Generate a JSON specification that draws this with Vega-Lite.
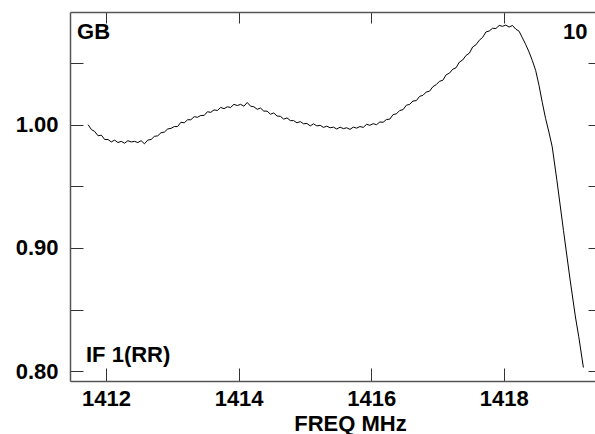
{
  "$schema": "https://vega.github.io/schema/vega-lite/v6.json",
  "width": 525,
  "height": 369,
  "autosize": {"type": "none"},
  "padding": {"left": 70, "top": 12, "right": 0, "bottom": 53},
  "background": "white",
  "config": {
    "view": {"stroke": null},
    "font": "Liberation Sans",
    "axis": {
      "grid": false,
      "domainColor": "#555555",
      "domainWidth": 1.5,
      "tickColor": "#333333",
      "tickWidth": 1,
      "tickSize": -13,
      "labelFont": "Liberation Sans",
      "labelFontSize": 22,
      "labelFontWeight": "bold",
      "labelColor": "#000000",
      "labelOverlap": false,
      "labelFlush": false,
      "titleFont": "Liberation Sans",
      "titleFontSize": 22,
      "titleFontWeight": "bold",
      "titleColor": "#000000"
    }
  },
  "datasets": {
    "spectrum": [
      {"freq": 1411.73, "amp": 1.0},
      {"freq": 1411.78, "amp": 0.996},
      {"freq": 1411.83, "amp": 0.9945},
      {"freq": 1411.88, "amp": 0.991},
      {"freq": 1411.93, "amp": 0.9915},
      {"freq": 1411.98, "amp": 0.988},
      {"freq": 1412.03, "amp": 0.988},
      {"freq": 1412.08, "amp": 0.986},
      {"freq": 1412.13, "amp": 0.9875},
      {"freq": 1412.18, "amp": 0.9855},
      {"freq": 1412.23, "amp": 0.9865},
      {"freq": 1412.28, "amp": 0.985},
      {"freq": 1412.33, "amp": 0.987},
      {"freq": 1412.38, "amp": 0.986},
      {"freq": 1412.43, "amp": 0.9865},
      {"freq": 1412.48, "amp": 0.9855},
      {"freq": 1412.53, "amp": 0.987},
      {"freq": 1412.58, "amp": 0.9845},
      {"freq": 1412.63, "amp": 0.9875},
      {"freq": 1412.68, "amp": 0.988},
      {"freq": 1412.73, "amp": 0.9905},
      {"freq": 1412.78, "amp": 0.991},
      {"freq": 1412.83, "amp": 0.9935},
      {"freq": 1412.88, "amp": 0.994},
      {"freq": 1412.93, "amp": 0.9965},
      {"freq": 1412.98, "amp": 0.997},
      {"freq": 1413.03, "amp": 0.9985},
      {"freq": 1413.08, "amp": 0.9985},
      {"freq": 1413.13, "amp": 1.002},
      {"freq": 1413.18, "amp": 1.0015},
      {"freq": 1413.23, "amp": 1.004},
      {"freq": 1413.28, "amp": 1.004},
      {"freq": 1413.33, "amp": 1.0065},
      {"freq": 1413.38, "amp": 1.006},
      {"freq": 1413.43, "amp": 1.0075},
      {"freq": 1413.48, "amp": 1.0075},
      {"freq": 1413.53, "amp": 1.0105},
      {"freq": 1413.58, "amp": 1.01},
      {"freq": 1413.63, "amp": 1.012},
      {"freq": 1413.68, "amp": 1.0115},
      {"freq": 1413.73, "amp": 1.014},
      {"freq": 1413.78, "amp": 1.013},
      {"freq": 1413.83, "amp": 1.0145},
      {"freq": 1413.88, "amp": 1.014},
      {"freq": 1413.93, "amp": 1.0165},
      {"freq": 1413.98, "amp": 1.0155},
      {"freq": 1414.03, "amp": 1.0165},
      {"freq": 1414.08, "amp": 1.015},
      {"freq": 1414.13, "amp": 1.018},
      {"freq": 1414.18, "amp": 1.015},
      {"freq": 1414.23, "amp": 1.0145},
      {"freq": 1414.28, "amp": 1.0125},
      {"freq": 1414.33, "amp": 1.0135},
      {"freq": 1414.38, "amp": 1.011},
      {"freq": 1414.43, "amp": 1.011},
      {"freq": 1414.48, "amp": 1.0085},
      {"freq": 1414.53, "amp": 1.0095},
      {"freq": 1414.58, "amp": 1.007},
      {"freq": 1414.63, "amp": 1.0068},
      {"freq": 1414.68, "amp": 1.0045},
      {"freq": 1414.73, "amp": 1.0055},
      {"freq": 1414.78, "amp": 1.0033},
      {"freq": 1414.83, "amp": 1.0033},
      {"freq": 1414.88, "amp": 1.0015},
      {"freq": 1414.93, "amp": 1.0025},
      {"freq": 1414.98, "amp": 1.0007},
      {"freq": 1415.03, "amp": 1.001},
      {"freq": 1415.08, "amp": 0.999},
      {"freq": 1415.13, "amp": 1.0007},
      {"freq": 1415.18, "amp": 0.999},
      {"freq": 1415.23, "amp": 0.9995},
      {"freq": 1415.28, "amp": 0.9978},
      {"freq": 1415.33, "amp": 0.9988},
      {"freq": 1415.38, "amp": 0.9975},
      {"freq": 1415.43, "amp": 0.998},
      {"freq": 1415.48, "amp": 0.9965},
      {"freq": 1415.53, "amp": 0.998},
      {"freq": 1415.58, "amp": 0.9968},
      {"freq": 1415.63, "amp": 0.9975},
      {"freq": 1415.68, "amp": 0.9962},
      {"freq": 1415.73, "amp": 0.998},
      {"freq": 1415.78, "amp": 0.9972},
      {"freq": 1415.83, "amp": 0.9985},
      {"freq": 1415.88, "amp": 0.9978},
      {"freq": 1415.93, "amp": 1.0003},
      {"freq": 1415.98, "amp": 0.9995},
      {"freq": 1416.03, "amp": 1.0008},
      {"freq": 1416.08, "amp": 1.0},
      {"freq": 1416.13, "amp": 1.0022},
      {"freq": 1416.18, "amp": 1.002},
      {"freq": 1416.23, "amp": 1.0042},
      {"freq": 1416.28, "amp": 1.0045},
      {"freq": 1416.33, "amp": 1.0082},
      {"freq": 1416.38, "amp": 1.0088},
      {"freq": 1416.43, "amp": 1.0115},
      {"freq": 1416.48, "amp": 1.0122},
      {"freq": 1416.53, "amp": 1.0158},
      {"freq": 1416.58, "amp": 1.0165},
      {"freq": 1416.63, "amp": 1.0192},
      {"freq": 1416.68, "amp": 1.0195},
      {"freq": 1416.73, "amp": 1.023},
      {"freq": 1416.78, "amp": 1.0238},
      {"freq": 1416.83, "amp": 1.0265},
      {"freq": 1416.88, "amp": 1.0272},
      {"freq": 1416.93, "amp": 1.0308},
      {"freq": 1416.98, "amp": 1.0325},
      {"freq": 1417.03, "amp": 1.0352},
      {"freq": 1417.08, "amp": 1.036},
      {"freq": 1417.13, "amp": 1.0405},
      {"freq": 1417.18, "amp": 1.0418},
      {"freq": 1417.23, "amp": 1.045},
      {"freq": 1417.28, "amp": 1.0462},
      {"freq": 1417.33, "amp": 1.0508},
      {"freq": 1417.38, "amp": 1.0525},
      {"freq": 1417.43, "amp": 1.0562},
      {"freq": 1417.48, "amp": 1.058},
      {"freq": 1417.53, "amp": 1.063},
      {"freq": 1417.58, "amp": 1.0648},
      {"freq": 1417.63, "amp": 1.0685},
      {"freq": 1417.68, "amp": 1.0708},
      {"freq": 1417.73, "amp": 1.0752},
      {"freq": 1417.78, "amp": 1.076},
      {"freq": 1417.83, "amp": 1.0782},
      {"freq": 1417.88, "amp": 1.078},
      {"freq": 1417.93, "amp": 1.0805},
      {"freq": 1417.98, "amp": 1.0798},
      {"freq": 1418.03, "amp": 1.0808},
      {"freq": 1418.08, "amp": 1.0792},
      {"freq": 1418.13, "amp": 1.0805},
      {"freq": 1418.18, "amp": 1.0775},
      {"freq": 1418.23, "amp": 1.0758},
      {"freq": 1418.28, "amp": 1.0705},
      {"freq": 1418.33, "amp": 1.065},
      {"freq": 1418.38, "amp": 1.059},
      {"freq": 1418.43, "amp": 1.052},
      {"freq": 1418.48, "amp": 1.044},
      {"freq": 1418.53, "amp": 1.032},
      {"freq": 1418.58, "amp": 1.018},
      {"freq": 1418.63, "amp": 1.005},
      {"freq": 1418.68, "amp": 0.994},
      {"freq": 1418.73, "amp": 0.982},
      {"freq": 1418.8, "amp": 0.955},
      {"freq": 1418.9, "amp": 0.914},
      {"freq": 1419.0, "amp": 0.874},
      {"freq": 1419.08, "amp": 0.844},
      {"freq": 1419.13, "amp": 0.828},
      {"freq": 1419.2, "amp": 0.803}
    ],
    "notes": [
      {"label": "GB", "freq": 1411.563, "amp": 1.0692},
      {"label": "10", "freq": 1418.893, "amp": 1.0692},
      {"label": "IF 1(RR)", "freq": 1411.698, "amp": 0.8075}
    ]
  },
  "layer": [
    {
      "data": {"name": "spectrum"},
      "mark": {"type": "line", "color": "#000000", "strokeWidth": 1, "interpolate": "linear"},
      "encoding": {
        "x": {
          "field": "freq",
          "type": "quantitative",
          "scale": {"domain": [1411.457, 1419.375], "nice": false, "zero": false},
          "axis": {
            "orient": "bottom",
            "values": [1412, 1414, 1416, 1418],
            "format": "d",
            "labelPadding": 20,
            "title": "FREQ MHz",
            "titleX": 280,
            "titleY": 49,
            "titleBaseline": "alphabetic",
            "titleAnchor": "middle"
          }
        },
        "y": {
          "field": "amp",
          "type": "quantitative",
          "scale": {"domain": [0.7921, 1.0914], "nice": false, "zero": false},
          "axis": {
            "orient": "left",
            "values": [0.8, 0.85, 0.9, 0.95, 1.0, 1.05],
            "format": ".2f",
            "labelExpr": "indexof(['0.80','0.90','1.00'], datum.label) >= 0 ? datum.label : ''",
            "labelPadding": 25,
            "title": null
          }
        }
      }
    },
    {
      "data": {"name": "notes"},
      "mark": {"type": "text", "align": "left", "baseline": "alphabetic", "font": "Liberation Sans", "fontSize": 22, "fontWeight": "bold", "color": "#000000"},
      "encoding": {
        "x": {
          "field": "freq",
          "type": "quantitative",
          "scale": {"domain": [1411.457, 1419.375], "nice": false, "zero": false},
          "axis": {"orient": "top", "values": [1412, 1414, 1416, 1418], "labels": false, "tickSize": -11, "title": null}
        },
        "y": {
          "field": "amp",
          "type": "quantitative",
          "scale": {"domain": [0.7921, 1.0914], "nice": false, "zero": false},
          "axis": {"orient": "right", "values": [0.8, 0.85, 0.9, 0.95, 1.0, 1.05], "labels": false, "tickSize": -7, "domain": false, "title": null}
        },
        "text": {"field": "label"}
      }
    }
  ],
  "resolve": {"axis": {"x": "independent", "y": "independent"}}
}
